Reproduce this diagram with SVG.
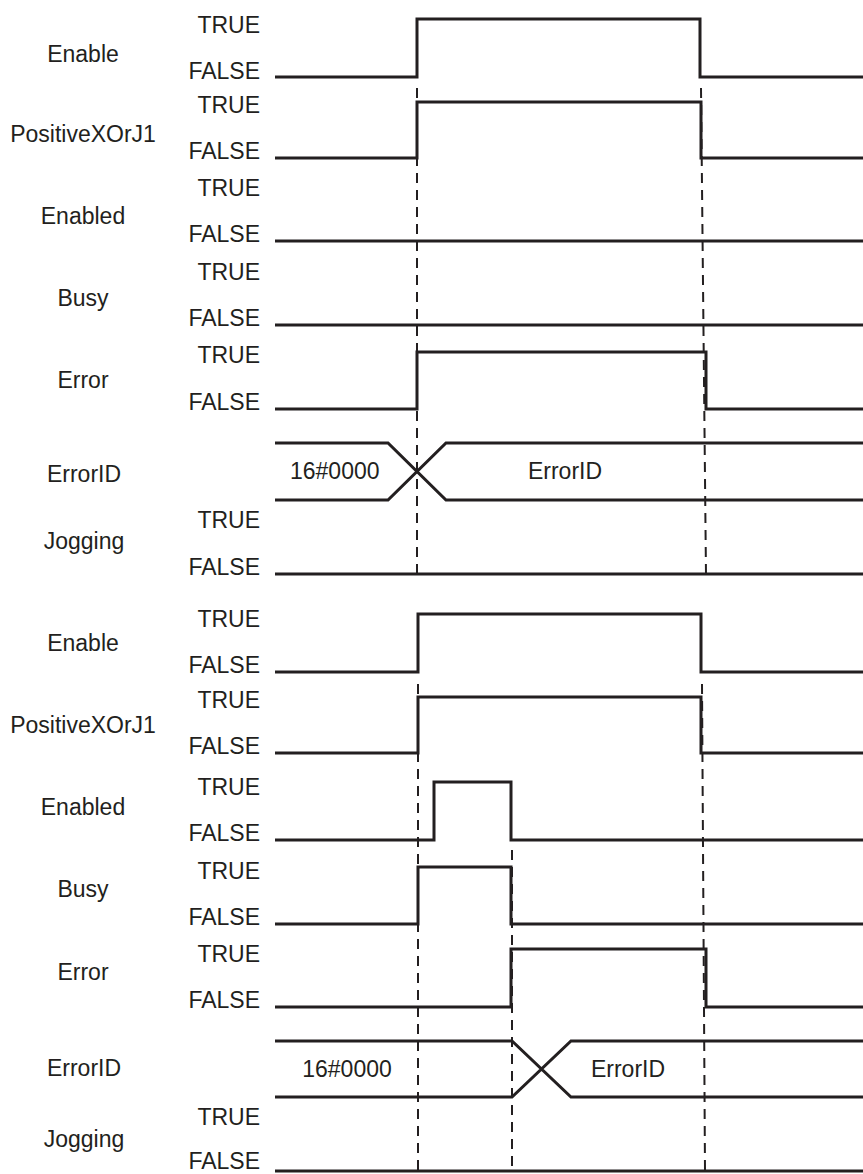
<svg xmlns="http://www.w3.org/2000/svg" width="863" height="1174" viewBox="0 0 863 1174">
<style>
.t{font-family:"Liberation Sans",Arial,sans-serif;font-size:23px;fill:#231f20}
.r{text-anchor:end}
.c{text-anchor:middle}
.s{fill:none;stroke:#231f20;stroke-width:3;stroke-linejoin:miter}
.d{fill:none;stroke:#231f20;stroke-width:2;stroke-dasharray:10 7}
</style>
<rect width="863" height="1174" fill="#fff"/>
<g id="connectors">
<path class="d" d="M417 88V575M701 88L706 575"/>
<path class="d" d="M418 684V1171M512 850V1171M702 684L705 1171"/>
</g>
<g id="top-enable">
<text class="t c" x="83" y="62">Enable</text>
<text class="t r" x="260" y="33">TRUE</text><text class="t r" x="260" y="79">FALSE</text>
<path class="s" d="M275 77H417V19H700V77H863"/>
</g>
<g id="top-positive">
<text class="t c" x="83" y="142">PositiveXOrJ1</text>
<text class="t r" x="260" y="113">TRUE</text><text class="t r" x="260" y="159">FALSE</text>
<path class="s" d="M275 158H417V102H701V158H863"/>
</g>
<g id="top-enabled">
<text class="t c" x="83" y="224">Enabled</text>
<text class="t r" x="260" y="196">TRUE</text><text class="t r" x="260" y="242">FALSE</text>
<path class="s" d="M275 241H863"/>
</g>
<g id="top-busy">
<text class="t c" x="83" y="306">Busy</text>
<text class="t r" x="260" y="280">TRUE</text><text class="t r" x="260" y="326">FALSE</text>
<path class="s" d="M275 325H863"/>
</g>
<g id="top-error">
<text class="t c" x="83" y="388">Error</text>
<text class="t r" x="260" y="363">TRUE</text><text class="t r" x="260" y="410">FALSE</text>
<path class="s" d="M275 409H417V352H706V409H863"/>
</g>
<g id="top-errorid">
<text class="t c" x="84" y="482">ErrorID</text>
<text class="t" x="290" y="479">16#0000</text>
<text class="t c" x="565" y="479">ErrorID</text>
<path class="s" d="M275 443H388L446 500H863M275 500H388L446 443H863"/>
</g>
<g id="top-jogging">
<text class="t c" x="84" y="549">Jogging</text>
<text class="t r" x="260" y="528">TRUE</text><text class="t r" x="260" y="575">FALSE</text>
<path class="s" d="M275 574H863"/>
</g>
<g id="bot-enable">
<text class="t c" x="83" y="651">Enable</text>
<text class="t r" x="260" y="627">TRUE</text><text class="t r" x="260" y="673">FALSE</text>
<path class="s" d="M275 672H418V614H701V672H863"/>
</g>
<g id="bot-positive">
<text class="t c" x="83" y="733">PositiveXOrJ1</text>
<text class="t r" x="260" y="708">TRUE</text><text class="t r" x="260" y="754">FALSE</text>
<path class="s" d="M275 753H418V697H701V753H863"/>
</g>
<g id="bot-enabled">
<text class="t c" x="83" y="815">Enabled</text>
<text class="t r" x="260" y="795">TRUE</text><text class="t r" x="260" y="841">FALSE</text>
<path class="s" d="M275 840H434V782H511V840H863"/>
</g>
<g id="bot-busy">
<text class="t c" x="83" y="897">Busy</text>
<text class="t r" x="260" y="879">TRUE</text><text class="t r" x="260" y="925">FALSE</text>
<path class="s" d="M275 924H418V867H511V924H863"/>
</g>
<g id="bot-error">
<text class="t c" x="83" y="980">Error</text>
<text class="t r" x="260" y="962">TRUE</text><text class="t r" x="260" y="1008">FALSE</text>
<path class="s" d="M275 1007H511V949H706V1007H863"/>
</g>
<g id="bot-errorid">
<text class="t c" x="84" y="1076">ErrorID</text>
<text class="t c" x="347" y="1077">16#0000</text>
<text class="t c" x="628" y="1077">ErrorID</text>
<path class="s" d="M275 1041H512L571 1097H863M275 1097H512L571 1041H863"/>
</g>
<g id="bot-jogging">
<text class="t c" x="84" y="1147">Jogging</text>
<text class="t r" x="260" y="1125">TRUE</text><text class="t r" x="260" y="1169">FALSE</text>
<path class="s" d="M275 1171H863"/>
</g>
</svg>
